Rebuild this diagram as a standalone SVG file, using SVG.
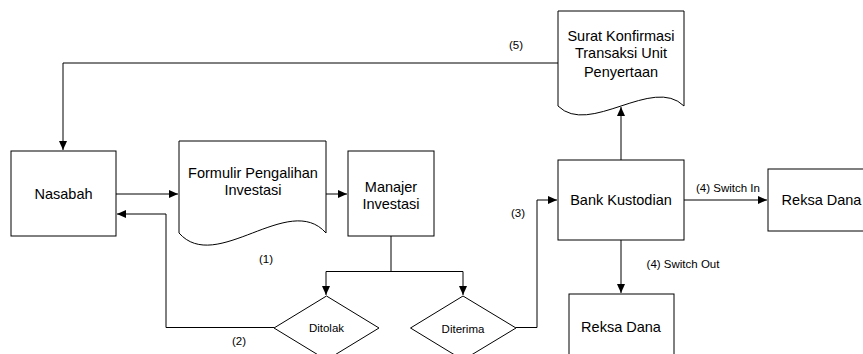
<svg xmlns="http://www.w3.org/2000/svg" width="863" height="354" viewBox="0 0 863 354">
<style>
.shape{fill:#fff;stroke:#000;stroke-width:1}
.line{fill:none;stroke:#000;stroke-width:1}
.t{font-family:"Liberation Sans",Arial,sans-serif;font-size:14.5px;fill:#000;text-anchor:middle}
.s{font-family:"Liberation Sans",Arial,sans-serif;font-size:11.5px;fill:#000;text-anchor:middle}
</style>
<defs>
<marker id="arr" markerWidth="10" markerHeight="8" refX="9" refY="4" orient="auto" markerUnits="userSpaceOnUse">
<path d="M0,0 L9,4 L0,8 Z" fill="#000"/>
</marker>
</defs>
<rect width="863" height="354" fill="#fff"/>
<g id="connectors">
<path class="line" d="M558,63 H63 V150" marker-end="url(#arr)"/>
<path class="line" d="M116,194 H178" marker-end="url(#arr)"/>
<path class="line" d="M326,194 H347" marker-end="url(#arr)"/>
<path class="line" d="M274,327.5 H166 V214 H117" marker-end="url(#arr)"/>
<path class="line" d="M391,236 V271.5 H326 V295" marker-end="url(#arr)"/>
<path class="line" d="M391,271.5 H463 V295" marker-end="url(#arr)"/>
<path class="line" d="M516,327.5 H537 V200 H557" marker-end="url(#arr)"/>
<path class="line" d="M621,160 V107" marker-end="url(#arr)"/>
<path class="line" d="M684,200 H767" marker-end="url(#arr)"/>
<path class="line" d="M621,240 V293" marker-end="url(#arr)"/>
<text class="s" x="516" y="49">(5)</text>
<text class="s" x="266" y="263">(1)</text>
<text class="s" x="239" y="345">(2)</text>
<text class="s" x="518" y="217">(3)</text>
<text class="s" x="728" y="192">(4) Switch In</text>
<text class="s" x="683" y="268">(4) Switch Out</text>
</g>
<g id="nasabah">
<rect class="shape" x="11" y="151" width="105" height="85"/>
<text class="t" x="63.5" y="199">Nasabah</text>
</g>
<g id="formulir">
<path class="shape" d="M179,141 H326 V233 C289,191 216,275 179,233 Z"/>
<text class="t" x="253" y="178">Formulir Pengalihan</text>
<text class="t" x="253" y="195">Investasi</text>
</g>
<g id="manajer">
<rect class="shape" x="348" y="151" width="86" height="85"/>
<text class="t" x="391" y="192">Manajer</text>
<text class="t" x="391" y="208.5">Investasi</text>
</g>
<g id="ditolak">
<path class="shape" d="M326.5,296 L379,328 L326.5,360 L274,328 Z"/>
<text class="s" x="326.5" y="332">Ditolak</text>
</g>
<g id="diterima">
<path class="shape" d="M463,296 L516,328 L463,360 L410.5,328 Z"/>
<text class="s" x="463" y="333">Diterima</text>
</g>
<g id="bank-kustodian">
<rect class="shape" x="558" y="160" width="126" height="80"/>
<text class="t" x="621" y="205">Bank Kustodian</text>
</g>
<g id="surat">
<path class="shape" d="M558,11 H684 V106 C652.5,75 589.5,137 558,106 Z"/>
<text class="t" x="621" y="41">Surat Konfirmasi</text>
<text class="t" x="621" y="58">Transaksi Unit</text>
<text class="t" x="621" y="76.5">Penyertaan</text>
</g>
<g id="reksa-dana-1">
<rect class="shape" x="768" y="169" width="106" height="62"/>
<text class="t" x="821.5" y="205">Reksa Dana</text>
</g>
<g id="reksa-dana-2">
<rect class="shape" x="569" y="294" width="105" height="70"/>
<text class="t" x="621" y="332">Reksa Dana</text>
</g>
</svg>
